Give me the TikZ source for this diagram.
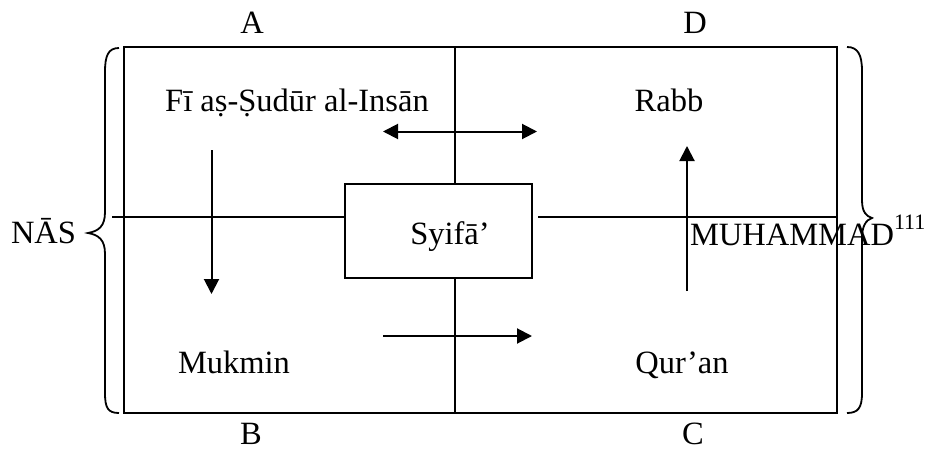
\documentclass[tikz,border=0pt]{standalone}
\usepackage{fontspec}
\setmainfont{Liberation Serif}
\usetikzlibrary{arrows.meta}
\begin{document}
\begin{tikzpicture}[x=0.5pt,y=-0.5pt,
  every node/.style={inner sep=0pt, outer sep=0pt},
  txt/.style={font=\fontsize{16.25}{19}\selectfont, anchor=base},
  frame/.style={line width=1pt},
  tip/.tip={Triangle[length=7.5pt,width=7.5pt]},
  arr/.style={line width=1pt, -tip},
  darr/.style={line width=1pt, tip-tip},
  bracepath/.style={line width=0.9pt}]
\useasboundingbox (0,0) rectangle (925,449);

% outer frame and centre box
\draw[frame] (124,47) rectangle (837,413);
\node[draw, frame, minimum width=93.5pt, minimum height=47pt] (syifa) at (438.5,231) {};

% dividing lines
\coordinate (topmid) at (455,47);
\coordinate (botmid) at (455,413);
\coordinate (hl) at (112,217);
\coordinate (hr) at (837,216.5);
\draw[frame] (topmid) -- (topmid |- syifa.north);
\draw[frame] (botmid) -- (botmid |- syifa.south);
\draw[frame] (hl) -- (hl -| syifa.west);
\draw[frame] (hr) -- ([xshift=3pt]hr -| syifa.east);

% quadrant texts
\node[txt] (fi) at (297,112) {Fī aṣ-Ṣudūr al-Insān};
\node[txt] (rabb) at (669,112) {Rabb};
\node[txt] (mukmin) at (234,373) {Mukmin};
\node[txt] (quran) at (682,373) {Qur’an};
\node[txt] (syifatext) at (450,244) {Syifā’};

% corner letters
\node[txt] (la) at (252,34) {A};
\node[txt] (ld) at (695,34) {D};
\node[txt] (lb) at (251,444) {B};
\node[txt] (lc) at (693,444) {C};

% side labels
\node[txt, anchor=base west] (nas) at (11,243) {NĀS};
\node[txt, anchor=base west] (muh) at (690,245) {MUHAMMAD\raisebox{8pt}{\fontsize{11}{12}\selectfont 111}};

% arrows
\coordinate (a1s) at (211.5,150);
\coordinate (a1e) at (211.5,294);
\draw[arr] (a1s) -- (a1e);
\coordinate (a2s) at (687,291);
\coordinate (a2e) at (687,146);
\draw[arr] (a2s) -- (a2e);
\coordinate (a3s) at (383,336);
\coordinate (a3e) at (532,336);
\draw[arr] (a3s) -- (a3e);
\coordinate (a4s) at (383,131.5);
\coordinate (a4e) at (537,131.5);
\draw[darr] (a4s) -- (a4e);

% braces
\draw[bracepath] (119,48) .. controls (108,48) and (105,56) .. (105,72)
  -- (105,212) .. controls (105,226) and (99,231) .. (88,233)
  .. controls (99,235) and (105,240) .. (105,254)
  -- (105,393) .. controls (105,408) and (108,413) .. (119,413);
\draw[bracepath] (847,47) .. controls (858,47) and (862,55) .. (862,71)
  -- (862,200) .. controls (862,212) and (866,216) .. (872,218)
  .. controls (866,220) and (862,226) .. (862,238)
  -- (862,393) .. controls (862,408) and (858,413) .. (847,413);
\end{tikzpicture}
\end{document}
